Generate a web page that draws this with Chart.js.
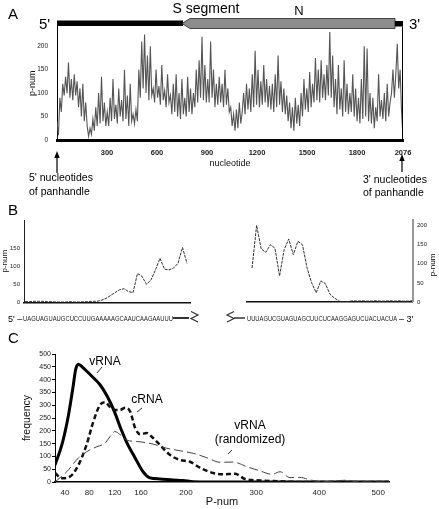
<!DOCTYPE html>
<html><head><meta charset="utf-8">
<script src="https://cdn.jsdelivr.net/npm/chart.js@4.4.1/dist/chart.umd.min.js"></script>
<style>
html,body{margin:0;padding:0;background:#fff;}
#wrap{position:relative;width:439px;height:509px;overflow:hidden;}
canvas{position:absolute;}
#ov{position:absolute;left:0;top:0;pointer-events:none;}
</style></head><body>
<div id="wrap">
<canvas id="cA" width="439" height="175" style="left:0px;top:0px"></canvas>
<canvas id="cBL" width="200" height="110" style="left:0px;top:200px"></canvas>
<canvas id="cBR" width="209" height="110" style="left:230px;top:200px"></canvas>
<canvas id="cC" width="439" height="169" style="left:0px;top:340px"></canvas>
<svg id="ov" width="439" height="509" font-family="Liberation Sans, Arial, sans-serif" fill="#000">
  <text x="8" y="18.5" font-size="15">A</text>
  <text x="8" y="214.5" font-size="15">B</text>
  <text x="8" y="342.5" font-size="15">C</text>
  <text x="39" y="28.5" font-size="15">5'</text>
  <text x="409" y="29" font-size="15">3'</text>
  <text x="206" y="12.5" font-size="14" text-anchor="middle">S segment</text>
  <text x="299" y="15" font-size="13" text-anchor="middle">N</text>
  <rect x="57" y="20.5" width="126" height="5.5" fill="#000"/>
  <polygon points="182,23.5 190,18.5 395,18.5 395,28.5 190,28.5" fill="#8c8c8c" stroke="#222" stroke-width="0.8"/>
  <rect x="395" y="21" width="8" height="5.5" fill="#000"/>
  <line x1="57" y1="157" x2="57" y2="173" stroke="#000" stroke-width="1.2"/>
  <polygon points="57,151 54.3,158 59.7,158" fill="#000"/>
  <line x1="402" y1="160" x2="402" y2="172" stroke="#000" stroke-width="1.2"/>
  <polygon points="402,154 399.3,161 404.7,161" fill="#000"/>
  <text x="29" y="180.5" font-size="10.5">5' nucleotides</text>
  <text x="29" y="195" font-size="10.5">of panhandle</text>
  <text x="363" y="182.5" font-size="10.5">3' nucleotides</text>
  <text x="363" y="196" font-size="10.5">of panhandle</text>
  <text x="432" y="265" font-size="8" text-anchor="middle" dominant-baseline="central" transform="rotate(-90 432 265)">p-num</text>
  <text x="8" y="321.5" font-size="9">5' –</text>
  <text x="23" y="321" font-size="7" textLength="150" lengthAdjust="spacingAndGlyphs" fill="#222">UAGUAGUAUGCUCCUUGAAAAAGCAAUCAAGAAUUU</text>
  <line x1="173" y1="318" x2="189" y2="318" stroke="#333" stroke-width="2"/>
  <path d="M191,311.5 L198,315 L191,318.5 L198,322" fill="none" stroke="#333" stroke-width="1.2"/>
  <path d="M234,311.5 L227,315 L234,318.5 L227,322" fill="none" stroke="#333" stroke-width="1.2"/>
  <line x1="234" y1="318" x2="245" y2="318" stroke="#333" stroke-width="1.5"/>
  <text x="247" y="321" font-size="7" textLength="150" lengthAdjust="spacingAndGlyphs" fill="#222">UUUAGUCGUAGUAGCUUCUCAAGGAGUCUACUACUA</text>
  <text x="399" y="321.5" font-size="9">– 3'</text>
  <text x="105" y="364.5" font-size="12" text-anchor="middle">vRNA</text>
  <line x1="97" y1="373" x2="102" y2="367" stroke="#000" stroke-width="0.8"/>
  <text x="147" y="402.5" font-size="12" text-anchor="middle">cRNA</text>
  <line x1="137" y1="412" x2="142" y2="408" stroke="#000" stroke-width="0.8"/>
  <text x="250" y="428.5" font-size="12" text-anchor="middle">vRNA</text>
  <text x="250" y="442.5" font-size="12" text-anchor="middle">(randomized)</text>
  <line x1="228" y1="454" x2="232" y2="450" stroke="#000" stroke-width="0.8"/>
</svg>
</div>
<script>
// ---------- Panel A: p-num along S segment (nucleotide 1..2076) ----------
const aXMax = 2076;
const aXTicks = [300, 600, 900, 1200, 1500, 1800, 2076];
const aYTicks = [0, 50, 100, 150, 200];
const aValues = [
  40, 10, 90, 60,
  120, 95, 135, 100, 165, 90, 130, 85, 140, 95, 125,
  70, 110, 50, 120, 40, 80,
  30, 8, 25, 12,
  45, 20, 70, 30, 100, 35, 135, 40, 80, 30,
  60, 30, 90, 40, 130, 45, 75, 35, 110, 50, 85, 40, 150, 45, 95, 30, 120, 40,
  55, 35, 65, 40,
  150, 90, 210, 110, 225, 100, 180, 85, 200, 95,
  110, 80, 150, 90, 115, 75, 160, 85, 105, 70, 140, 80,
  95, 55, 120, 60, 140, 50, 100, 45, 130, 55, 90, 50, 135, 60, 110, 55,
  100, 70, 150, 80, 170, 90, 220, 85, 160, 80,
  130, 80, 210, 90, 150, 70, 120, 75, 135,
  80, 120, 70, 150, 75, 110, 60,
  70, 30, 55, 20, 65, 25, 80, 35, 60,
  100, 55, 120, 65, 110, 60, 140, 70, 190, 75, 150, 70,
  125, 75, 160, 80, 130, 70, 115,
  65, 120, 60, 140, 70, 180, 75, 125, 60, 110, 55, 95,
  40, 80, 25, 70, 20, 90, 35, 75, 30,
  100, 50, 130, 65, 110, 60, 145, 70, 120, 80, 175, 85,
  150, 80, 170, 90, 140, 85, 160, 95, 230, 90, 180,
  70, 130, 55, 160, 65, 110, 50, 170, 60, 120, 55, 100, 60, 140,
  50, 110, 40, 90, 35, 130, 45, 200, 50, 195, 40, 100,
  35, 90, 25, 70, 40, 140, 50, 85, 45, 100, 40, 120, 50, 80,
  100, 150, 90, 140, 205, 110, 150,
  60, 5
];

// ---------- Panel B: panhandle ends ----------
const bLeftValues = [2,2,3,3,3,2,2,1,1,1,2,1,1,2,2,3,3,6,11,19,27,35,38,30,27,80,72,50,62,90,122,92,90,95,108,152,108];
const bRightValues = [89,201,139,130,150,141,68,137,165,124,159,150,89,50,24,55,48,20,10,2,0,1,3,2,3,2,2,3,2,2,3,2,3,2,2,3];
const bLeftTicks = [0, 50, 100, 150];
const bRightTicks = [0, 50, 100, 150, 200];

// ---------- Panel C: frequency distributions of P-num ----------
// x is the position along the category axis (bin index)
const cTickPos = [2.2, 7.6, 13.3, 19.1, 29.1, 44.7, 58.7, 71.8];
const cTickLabels = ['40', '80', '120', '160', '200', '300', '400', '500'];
const cYTicks = [0, 50, 100, 150, 200, 250, 300, 350, 400, 450, 500];
const cVrna = [[0,66],[1.6,150],[3.0,262],[4.0,370],[4.6,440],[5.2,460],[6.2,447],[8.2,413],[10.0,380],[11.6,335],[13.2,275],[14.7,205],[15.9,156],[17.8,94],[19.6,39],[21.1,16],[23.3,12],[26.2,8],[28.4,6],[30.7,1],[34.4,0],[74.2,0]];
const cCrna = [[0,35],[1.5,15],[3.3,21],[5.2,66],[7.0,145],[8.5,235],[10.0,301],[11.1,312],[12.2,294],[13.3,281],[14.4,281],[15.6,290],[16.7,275],[17.8,211],[18.9,187],[20.4,191],[21.5,177],[23.3,145],[25.6,105],[27.8,86],[30.0,79],[32.2,56],[35.1,35],[37.1,30],[40.0,32],[42.2,12],[45.6,6],[50,3],[54.4,0],[74.2,0]];
const cRand = [[0,0],[2.6,40],[5.2,94],[7.0,118],[9.3,138],[11.1,151],[12.2,177],[13.3,197],[14.4,186],[15.9,164],[18.9,157],[21.8,148],[24.8,132],[27.8,122],[30.7,112],[33.7,95],[36.7,77],[39.6,78],[42.6,60],[45.6,43],[48.2,30],[50,40],[52.2,17],[54.4,18],[56.7,8],[59.6,1],[61.8,4],[64.8,7],[67,1],[70.7,0],[74.2,0]];

Chart.defaults.font.family = "'Liberation Sans', Arial, sans-serif";
Chart.defaults.color = '#222';
const common = { responsive:false, animation:false, devicePixelRatio:1, plugins:{legend:{display:false}, tooltip:{enabled:false}} };
const fixTicks = arr => s => { s.ticks = arr.map(v => ({value:v})); };

const frameRight = { id:'frameRight', afterDraw(c){ const a=c.chartArea, x=c.ctx; x.save(); x.strokeStyle='#000'; x.lineWidth=1; x.beginPath(); x.moveTo(a.right-0.5,a.top); x.lineTo(a.right-0.5,a.bottom); x.stroke(); x.restore(); } };

new Chart(document.getElementById('cA'), {
  type:'line',
  data:{ datasets:[{ data: aValues.map((v,i)=>({x: i*aXMax/(aValues.length-1), y: v})), borderColor:'#555', borderWidth:1.1, pointRadius:0, tension:0 }] },
  options: Object.assign({}, common, {
    layout:{ padding:{ left:0, right:36, top:26.5, bottom:0 } },
    scales:{
      x:{ type:'linear', min:0, max:aXMax, grid:{display:false, drawTicks:false}, border:{display:true, color:'#000', width:3},
          afterBuildTicks: fixTicks(aXTicks), afterFit: s => { s.height = 35; },
          ticks:{ autoSkip:false, maxRotation:0, padding:8, font:{size:7.5, weight:'bold'}, callback: v => String(v) },
          title:{ display:true, text:'nucleotide', font:{size:9}, color:'#111', padding:{top:0, bottom:6} } },
      y:{ type:'linear', min:0, max:242, grid:{display:false, drawTicks:false}, border:{display:true, color:'#000', width:1},
          afterBuildTicks: fixTicks(aYTicks), afterFit: s => { s.width = 57; },
          ticks:{ autoSkip:false, padding:9, font:{size:6.5}, callback: v => String(v) },
          title:{ display:true, text:'p-num', font:{size:9}, color:'#111', padding:{top:27.6, bottom:0} } }
    }
  }),
  plugins:[frameRight]
});

new Chart(document.getElementById('cBL'), {
  type:'line',
  data:{ datasets:[{ data: bLeftValues.map((v,i)=>({x:i, y:v})), borderColor:'#333', borderWidth:1, borderDash:[3,1], pointRadius:0, tension:0 }] },
  options: Object.assign({}, common, {
    layout:{ padding:{ left:0, right:10, top:20, bottom:7 } },
    scales:{
      x:{ type:'linear', min:-0.22, max:36.67, grid:{display:false, drawTicks:false}, ticks:{display:false}, border:{display:true, color:'#111', width:1.5}, afterFit: s => { s.height = 0; } },
      y:{ type:'linear', min:0, max:228, grid:{display:false, drawTicks:false}, border:{display:true, color:'#222', width:1},
          afterBuildTicks: fixTicks(bLeftTicks), afterFit: s => { s.width = 24; },
          ticks:{ autoSkip:false, padding:4, font:{size:6} },
          title:{ display:true, text:'p-num', font:{size:8}, color:'#111', padding:{top:0, bottom:0} } }
    }
  })
});

new Chart(document.getElementById('cBR'), {
  type:'line',
  data:{ datasets:[{ data: bRightValues.map((v,i)=>({x:i, y:v})), borderColor:'#333', borderWidth:1, borderDash:[3,1], pointRadius:0, tension:0 }] },
  options: Object.assign({}, common, {
    layout:{ padding:{ left:17, right:0, top:20, bottom:7.3 } },
    scales:{
      x:{ type:'linear', min:-1.1, max:35, grid:{display:false, drawTicks:false}, ticks:{display:false}, border:{display:true, color:'#111', width:1.5}, afterFit: s => { s.height = 0; } },
      y:{ type:'linear', position:'right', min:0, max:215, grid:{display:false, drawTicks:false}, border:{display:true, color:'#999', width:2},
          afterBuildTicks: fixTicks(bRightTicks), afterFit: s => { s.width = 26.5; },
          ticks:{ autoSkip:false, padding:4.5, font:{size:6} } }
    }
  })
});

new Chart(document.getElementById('cC'), {
  type:'line',
  data:{ datasets:[
    { data: cRand.map(p=>({x:p[0], y:p[1]})), borderColor:'#444', borderWidth:1, borderDash:[9,4], pointRadius:0, tension:0.4, cubicInterpolationMode:'monotone' },
    { data: cCrna.map(p=>({x:p[0], y:p[1]})), borderColor:'#111', borderWidth:2.5, borderDash:[5,3], pointRadius:0, tension:0.4, cubicInterpolationMode:'monotone' },
    { data: cVrna.map(p=>({x:p[0], y:p[1]})), borderColor:'#000', borderWidth:3, pointRadius:0, tension:0.4, cubicInterpolationMode:'monotone' }
  ] },
  options: Object.assign({}, common, {
    layout:{ padding:{ left:0, right:50, top:14, bottom:0 } },
    scales:{
      x:{ type:'linear', min:0, max:74.2, grid:{display:false, drawTicks:false}, border:{display:true, color:'#000', width:1.5},
          afterBuildTicks: fixTicks(cTickPos), afterFit: s => { s.height = 27; },
          ticks:{ autoSkip:false, maxRotation:0, padding:5.5, font:{size:8}, callback: (v,i) => cTickLabels[i] },
          title:{ display:true, text:'P-num', font:{size:11}, color:'#111', padding:{top:0, bottom:0} } },
      y:{ type:'linear', min:0, max:500, grid:{display:true, drawOnChartArea:false, drawTicks:true, tickLength:3, color:'#000'}, border:{display:true, color:'#000', width:1},
          afterBuildTicks: fixTicks(cYTicks), afterFit: s => { s.width = 55; },
          ticks:{ autoSkip:false, padding:1, font:{size:7} },
          title:{ display:true, text:'frequency', font:{size:10.5}, color:'#111', padding:{top:20.4, bottom:0} } }
    }
  })
});
</script>
</body></html>
